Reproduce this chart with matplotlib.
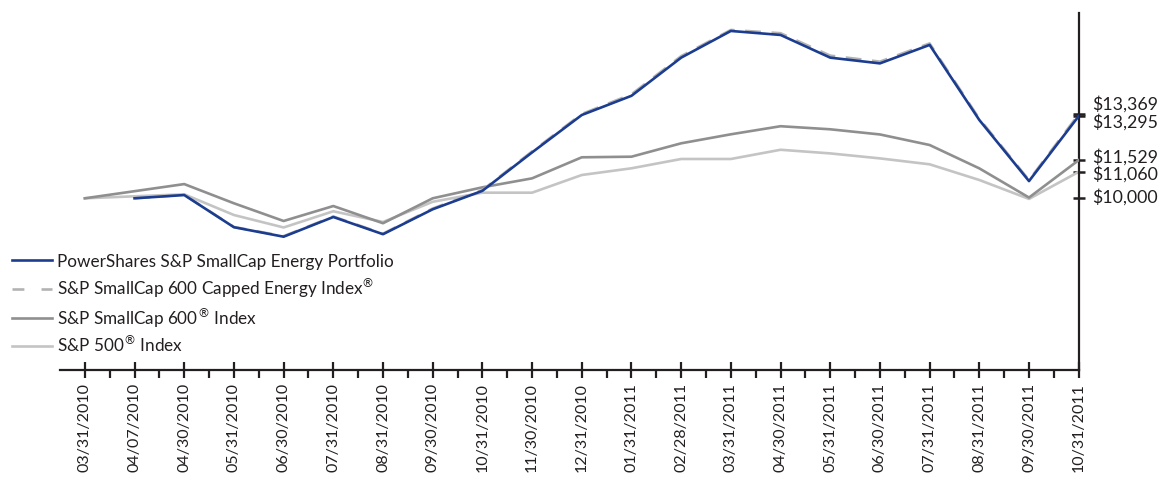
import matplotlib
matplotlib.use("Agg")
import matplotlib.pyplot as plt
from matplotlib.lines import Line2D
import matplotlib.transforms as mtransforms

plt.rcParams['font.family'] = ['Lato', 'DejaVu Sans']

dates = ["03/31/2010", "04/07/2010", "04/30/2010", "05/31/2010", "06/30/2010",
         "07/31/2010", "08/31/2010", "09/30/2010", "10/31/2010", "11/30/2010",
         "12/31/2010", "01/31/2011", "02/28/2011", "03/31/2011", "04/30/2011",
         "05/31/2011", "06/30/2011", "07/31/2011", "08/31/2011", "09/30/2011",
         "10/31/2011"]

fund = [None, 10000, 10130, 8840, 8460, 9250, 8560, 9560, 10300, 11840,
        13340, 14110, 15640, 16710, 16550, 15640, 15410, 16150, 13140, 10690,
        13295]
capped_index = [None, 10000, 10140, 8850, 8480, 9270, 8580, 9590, 10330, 11880,
                13380, 14170, 15700, 16750, 16620, 15720, 15480, 16210, 13190, 10730,
                13369]
smallcap600 = [10000, None, 10570, 9800, 9090, 9690, 9000, 10000, 10440, 10800,
               11644, 11668, 12205, 12566, 12890, 12767, 12560, 12137, 11200, 10030,
               11529]
sp500 = [10000, None, 10160, 9330, 8830, 9480, 9050, 9860, 10225, 10225,
         10934, 11203, 11576, 11576, 11946, 11800, 11600, 11363, 10734, 9975,
         11060]

labels = ["PowerShares S&P SmallCap Energy Portfolio",
          r"S&P SmallCap 600 Capped Energy Index$^{\circledR}$",
          r"S&P SmallCap 600$^{\circledR}$ Index",
          r"S&P 500$^{\circledR}$ Index"]
end_labels = [13369, 13295, 11529, 11060, 10000]

c_fund = "#1c3d8f"
c_capped = "#b3b3b3"
c_600 = "#8f8f8f"
c_500 = "#c4c4c4"
c_axis = "#231f20"

W, H = 1162, 479
fig = plt.figure(figsize=(W / 100, H / 100), dpi=100)
ax = fig.add_axes([60/W, 1-370/H, (1078.7-60)/W, (370-13)/H])

def pts(series):
    xs = [i for i, v in enumerate(series) if v is not None]
    ys = [v for v in series if v is not None]
    return xs, ys

lw = 1.9
x, y = pts(sp500); ax.plot(x, y, color=c_500, lw=lw, zorder=2)
x, y = pts(smallcap600); ax.plot(x, y, color=c_600, lw=lw, zorder=3)
x, y = pts(capped_index); ax.plot(x, y, color=c_capped, lw=lw, dashes=(6, 4), zorder=4)
x, y = pts(fund); ax.plot(x, y, color=c_fund, lw=lw, zorder=5)

ax.set_xlim(-0.5, len(dates) - 1)
ax.set_ylim(3115, 17430)

for s in ['top', 'left']:
    ax.spines[s].set_visible(False)
for s in ['bottom', 'right']:
    ax.spines[s].set_color(c_axis)
    ax.spines[s].set_linewidth(1.6)

ax.set_xticks(range(len(dates)))
ax.set_xticklabels(dates, rotation=90, va='top', ha='center', fontsize=11.5, color=c_axis)
ax.set_xticks([i + 0.5 for i in range(len(dates) - 1)], minor=True)
ax.tick_params(axis='x', which='major', direction='inout', length=11.5, width=1.6,
               color=c_axis, pad=3.5)
ax.tick_params(axis='x', which='minor', direction='out', length=6, width=1.6, color=c_axis)

ax.yaxis.tick_right()
ax.set_yticks(end_labels)
ax.set_yticklabels([])
ax.tick_params(axis='y', which='major', direction='inout', length=9, width=1.8, color=c_axis)
ax.tick_params(axis='y', which='minor', right=False, left=False)

offsets = {13369: 7.0, 13295: -4.5, 11529: 2.0, 11060: -1.6, 10000: 0.6}
trans = mtransforms.blended_transform_factory(ax.transAxes, ax.transData)
for v in end_labels:
    ax.annotate("\\${:,}".format(v), xy=(1, v), xycoords=trans,
                xytext=(10.0, offsets[v]), textcoords='offset points',
                va='center', ha='left', fontsize=12.8, color=c_axis)

# manual legend
leg_styles = [dict(color=c_fund, lw=lw),
              dict(color=c_capped, lw=lw, dashes=(4.5, 6.5)),
              dict(color=c_600, lw=lw),
              dict(color=c_500, lw=lw)]
row_y = [260, 289, 318, 346]
for lab, st, ry in zip(labels, leg_styles, row_y):
    yf = 1 - ry / H
    fig.add_artist(Line2D([12 / W, 52 / W], [yf, yf], transform=fig.transFigure, **st))
    fig.text(57 / W, 1 - (ry + 6.5) / H, lab, ha='left', va='baseline',
             fontsize=12.3, color=c_axis)

fig.savefig("out.png", dpi=100)
